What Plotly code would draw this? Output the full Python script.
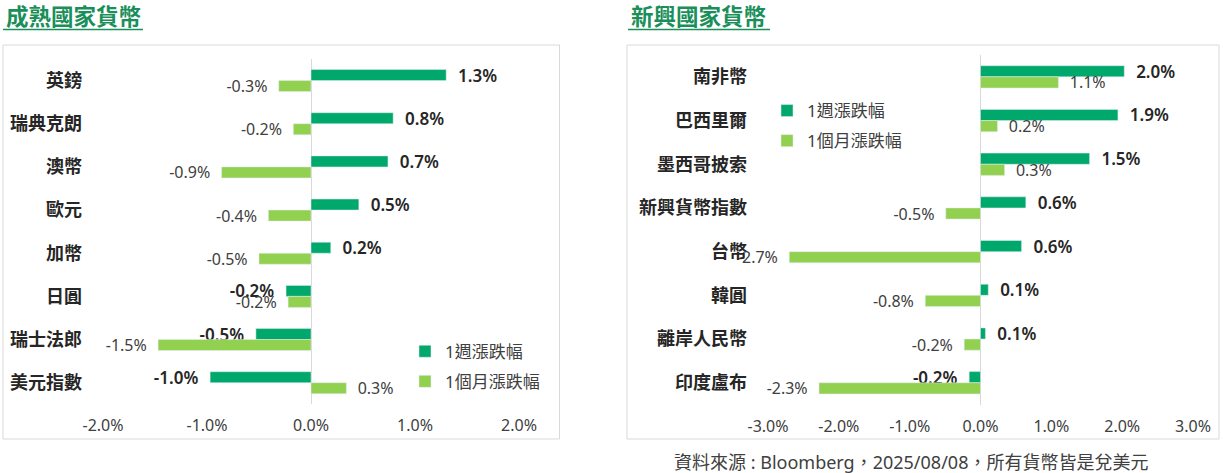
import plotly.graph_objects as go

W, H = 1223, 473

dev_names = ['英鎊', '瑞典克朗', '澳幣', '歐元', '加幣', '日圓', '瑞士法郎', '美元指數']
dev_week = [1.30, 0.79, 0.74, 0.46, 0.19, -0.24, -0.53, -0.97]
dev_month = [-0.31, -0.17, -0.86, -0.41, -0.50, -0.22, -1.47, 0.34]

em_names = ['南非幣', '巴西里爾', '墨西哥披索', '新興貨幣指數', '台幣', '韓圓', '離岸人民幣', '印度盧布']
em_week = [2.03, 1.94, 1.54, 0.64, 0.58, 0.11, 0.07, -0.16]
em_month = [1.10, 0.24, 0.34, -0.49, -2.70, -0.78, -0.23, -2.28]

dev_ticks = [-2, -1, 0, 1, 2]
em_ticks = [-3, -2, -1, 0, 1, 2, 3]

series_names = ['1週漲跌幅', '1個月漲跌幅']

DARK = '#00a86b'
LIGHT = '#92d050'
GREEN = '#1a8f5a'
FONT = 'Noto Sans, Noto Sans CJK TC, sans-serif'
PAD = '\u00a0\u00a0'


def label(v):
    s = f'{v:.1f}%'
    return s + PAD if v < 0 else PAD + s


def pct(t):
    return f'{t:.1f}%'


def px_x(p):
    return p / W


def px_y(p):
    return 1 - p / H


fig = go.Figure()

panels = [
    (dev_names, dev_week, dev_month, 'x', 'y', 'legend'),
    (em_names, em_week, em_month, 'x2', 'y2', 'legend2'),
]
for names, week, month, xa, ya, lg in panels:
    fig.add_trace(go.Bar(
        y=names, x=week, orientation='h', name=series_names[0],
        marker_color=DARK, text=[label(v) for v in week],
        textposition='outside', constraintext='none', cliponaxis=False,
        textfont=dict(size=17, color='#262626', weight=600),
        xaxis=xa, yaxis=ya, legend=lg, legendgroup='w' + lg,
    ))
    fig.add_trace(go.Bar(
        y=names, x=month, orientation='h', name=series_names[1],
        marker_color=LIGHT, text=[label(v) for v in month],
        textposition='outside', constraintext='none', cliponaxis=False,
        textfont=dict(size=16, color='#404040'),
        xaxis=xa, yaxis=ya, legend=lg, legendgroup='m' + lg,
    ))

xcommon = dict(showgrid=False, zeroline=True, zerolinecolor='#d9d9d9',
               zerolinewidth=1, showline=False, ticks='', automargin=False,
               tickfont=dict(size=16, color='#404040'), ticklabelstandoff=10,
               fixedrange=True)
ycommon = dict(type='category', autorange='reversed', showgrid=False,
               zeroline=False, showline=False, ticks='', automargin=False,
               tickfont=dict(size=18, color='#262626', weight='bold'),
               ticklabelstandoff=20, fixedrange=True)

legend_common = dict(xanchor='left', yanchor='middle', bgcolor='rgba(0,0,0,0)',
                     font=dict(size=17, color='#404040'), tracegroupgap=5,
                     traceorder='grouped')

fig.update_layout(
    width=W, height=H, autosize=False,
    margin=dict(l=0, r=0, t=0, b=0, pad=0),
    paper_bgcolor='white', plot_bgcolor='white',
    font=dict(family=FONT),
    barmode='group', bargap=0.49, bargroupgap=0,
    xaxis=dict(xcommon, domain=[px_x(103), px_x(519)], range=[-2, 2],
               tickvals=dev_ticks, ticktext=[pct(t) for t in dev_ticks], anchor='y'),
    yaxis=dict(ycommon, domain=[px_y(404.3), px_y(59)], anchor='x'),
    xaxis2=dict(xcommon, domain=[px_x(768), px_x(1193)], range=[-3, 3],
                tickvals=em_ticks, ticktext=[pct(t) for t in em_ticks], anchor='y2'),
    yaxis2=dict(ycommon, domain=[px_y(404.6), px_y(55)], anchor='x2'),
    legend=dict(legend_common, x=px_x(405), y=px_y(366.7)),
    legend2=dict(legend_common, x=px_x(767), y=px_y(126)),
    showlegend=True,
)

# panel frames and title underlines
for x0, x1 in [(3, 559.5), (627, 1219)]:
    fig.add_shape(type='rect', xref='paper', yref='paper',
                  x0=px_x(x0), x1=px_x(x1), y0=px_y(439), y1=px_y(45),
                  line=dict(color='#d9d9d9', width=1), fillcolor='rgba(0,0,0,0)')
for x0, x1 in [(3, 143), (628, 770)]:
    fig.add_shape(type='line', xref='paper', yref='paper',
                  x0=px_x(x0), x1=px_x(x1), y0=px_y(29.5), y1=px_y(29.5),
                  line=dict(color=GREEN, width=1.5))

for text, x in [('成熟國家貨幣', 4), ('新興國家貨幣', 629)]:
    fig.add_annotation(text=text, xref='paper', yref='paper',
                       x=px_x(x), y=px_y(16.5), xanchor='left', yanchor='middle',
                       showarrow=False,
                       font=dict(size=22.5, color=GREEN, weight='bold'))

fig.add_annotation(text='資料來源 : Bloomberg，2025/08/08，所有貨幣皆是兌美元',
                   xref='paper', yref='paper', x=px_x(911), y=px_y(462),
                   xanchor='center', yanchor='middle', showarrow=False,
                   font=dict(size=18, color='#404040'))

fig.write_html('out.html', config={'displayModeBar': False},
               post_script="document.body.style.margin='0';"
                           "document.body.style.overflow='hidden';")
